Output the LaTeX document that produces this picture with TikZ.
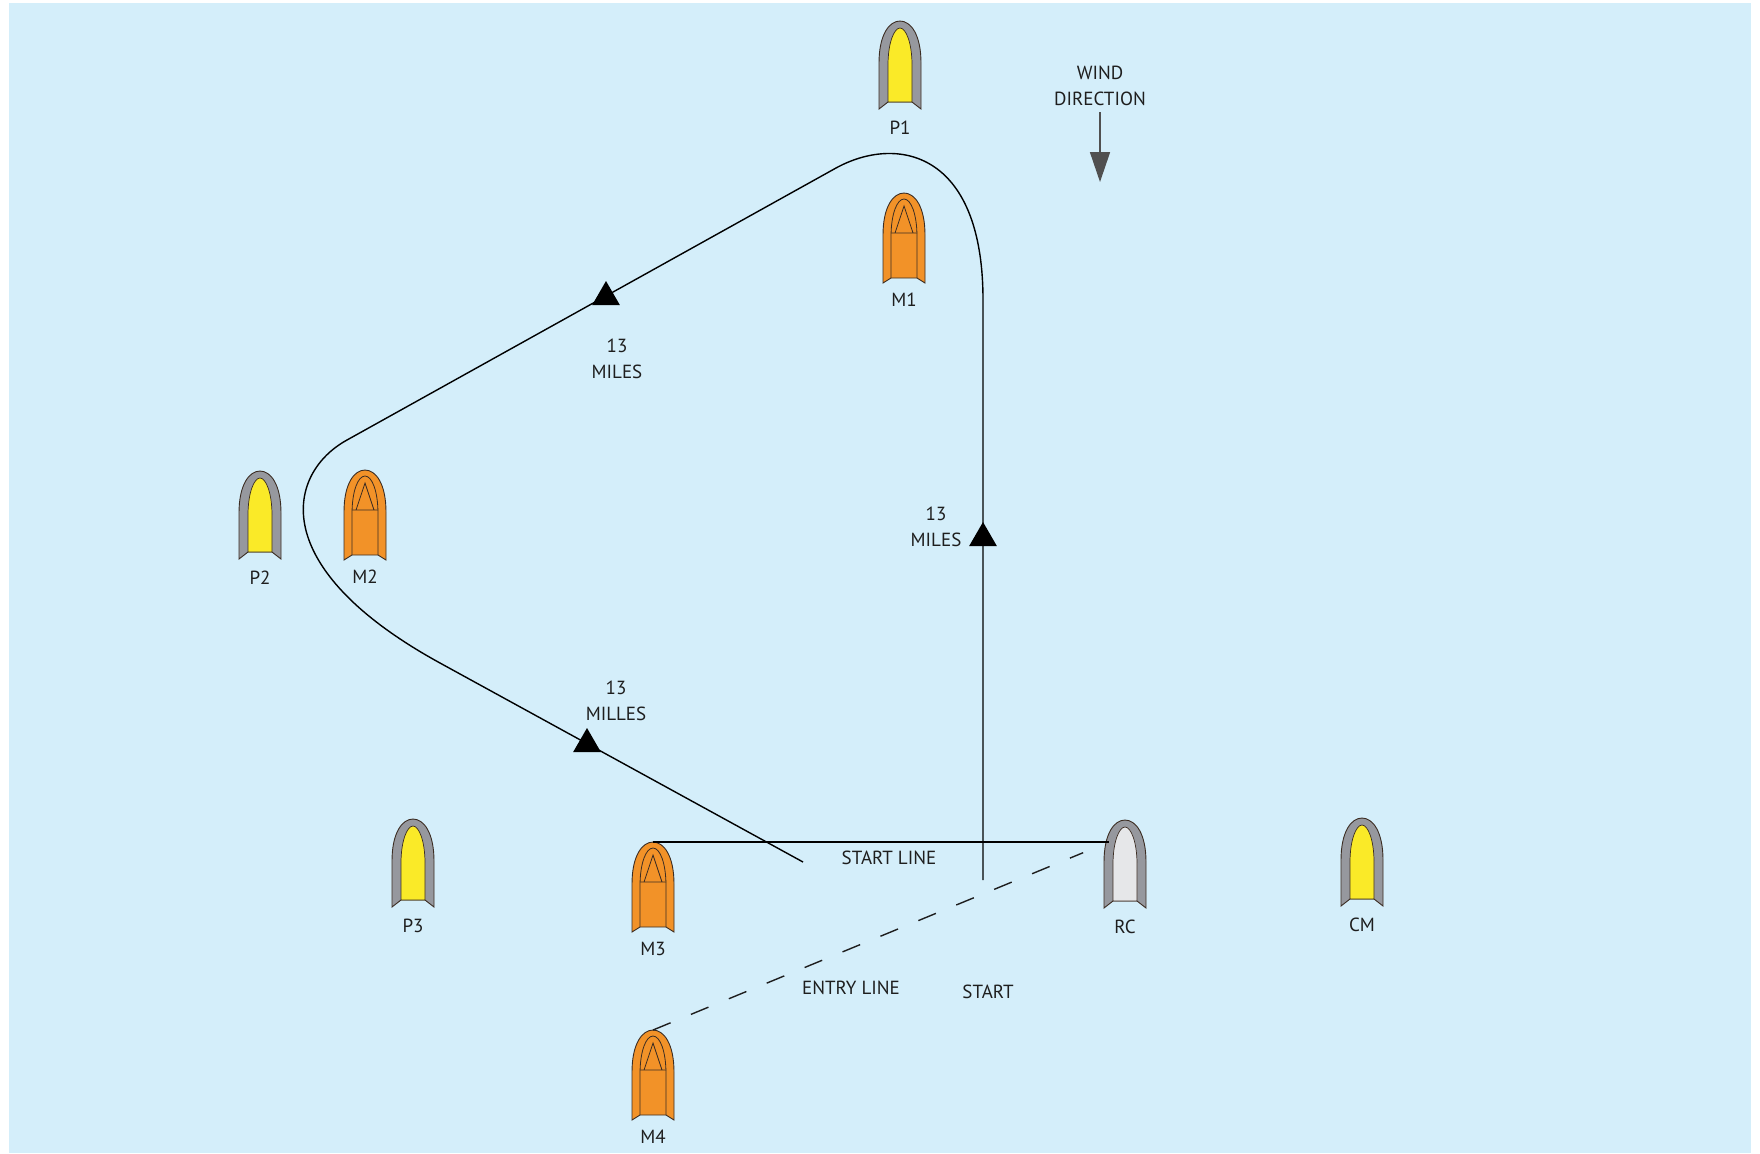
\documentclass[tikz,border=0pt]{standalone}
\usepackage{fontspec}
\setmainfont{PT Sans}
\usetikzlibrary{arrows.meta,shapes.geometric}
\definecolor{sea}{RGB}{212,238,250}
\definecolor{buoyyellow}{RGB}{250,234,40}
\definecolor{buoygrey}{RGB}{150,152,158}
\definecolor{rcgrey}{RGB}{230,231,233}
\definecolor{markorange}{RGB}{242,146,40}
\definecolor{hull}{RGB}{60,45,35}
\definecolor{ink}{RGB}{30,30,30}
\definecolor{windgrey}{RGB}{80,80,80}
\begin{document}
\begin{tikzpicture}[
    x=0.5pt, y=-0.5pt,
    every node/.style={font=\fontsize{9.5}{13}\selectfont, text=ink, align=center, inner sep=0pt},
    course/.style={draw=black, line width=0.7pt},
    entry/.style={draw=ink, line width=0.7pt, dash pattern=on 9.5pt off 11pt},
    leg/.style={regular polygon, regular polygon sides=3, fill=black, minimum size=16pt},
    windarrow/.style={draw=windgrey, line width=0.8pt, -{Triangle[length=15pt,width=10pt]}},
    pics/buoy/.style 2 args={code={
        \path[fill=buoygrey, draw=hull, line width=0.45pt] (-21,88) -- (-21,42) .. controls (-21,14) and (-11,0) .. (0,0) .. controls (11,0) and (21,14) .. (21,42) -- (21,88) -- (12,81) -- (-12,81) -- cycle;
        \path[fill=#2, draw=hull, line width=0.35pt] (-12,81) -- (-12,44) .. controls (-12,22) and (-6,7) .. (0,7) .. controls (6,7) and (12,22) .. (12,44) -- (12,81) -- cycle;
        \coordinate (-bow) at (0,0);
        \coordinate (-port) at (-16,22);
        \node (-name) at (0,107) {#1};
    }},
    pics/markboat/.style={code={
        \path[fill=markorange, draw=hull, line width=0.45pt] (-21,90) -- (-21,42) .. controls (-21,14) and (-11,0) .. (0,0) .. controls (11,0) and (21,14) .. (21,42) -- (21,90) -- (13,85) -- (-13,85) -- cycle;
        \draw[hull, line width=0.4pt] (-13,85) -- (-13,44) .. controls (-13,21) and (-7,6) .. (0,6) .. controls (7,6) and (13,21) .. (13,44) -- (13,85);
        \draw[hull, line width=0.4pt] (-13,40) -- (13,40) (-9,40) -- (0,13) -- (9,40);
        \coordinate (-bow) at (0,0);
        \node (-name) at (0,107) {#1};
    }}
]
\useasboundingbox (0,0) rectangle (1760,1153);
\fill[sea] (9,3) rectangle (1751,1153);

\pic (p1) at (900,21) {buoy={P1}{buoyyellow}};
\pic (p2) at (260,471) {buoy={P2}{buoyyellow}};
\pic (p3) at (413,819) {buoy={P3}{buoyyellow}};
\pic (cm) at (1362,818) {buoy={CM}{buoyyellow}};
\pic (rc) at (1125,820) {buoy={RC}{rcgrey}};
\pic (m1) at (904,193) {markboat=M1};
\pic (m2) at (365,470) {markboat=M2};
\pic (m3) at (653,842) {markboat=M3};
\pic (m4) at (653,1030) {markboat=M4};

\node (wind) at (1100,86) {WIND\\DIRECTION};
\coordinate (windtip) at (1100,182);
\draw[windarrow, shorten <=3pt] (wind.south) -- (windtip);

\coordinate (start) at (983,880);
\coordinate (finish) at (803,862);
\draw[course] (start) -- (983,300) .. controls (983,150) and (896,135) .. (836,168) -- (347,440) .. controls (287,473) and (265,567) .. (440,663) -- (finish);
\node[leg] (leg1) at (983,538) {};
\node[leg] (leg2) at (606,297) {};
\node[leg] (leg3) at (587,744) {};
\node (dist1) at (936,527) {13\\MILES};
\node (dist2) at (617,359) {13\\MILES};
\node (dist3) at (616,701) {13\\MILLES};

\draw[course] (m3-bow) -- (rc-port);
\draw[entry, shorten >=14pt] (m4-bow) -- (rc-port);
\node (startline) at (889,858) {START LINE};
\node (entryline) at (851,988) {ENTRY LINE};
\node (startarea) at (988,992) {START};
\end{tikzpicture}
\end{document}
